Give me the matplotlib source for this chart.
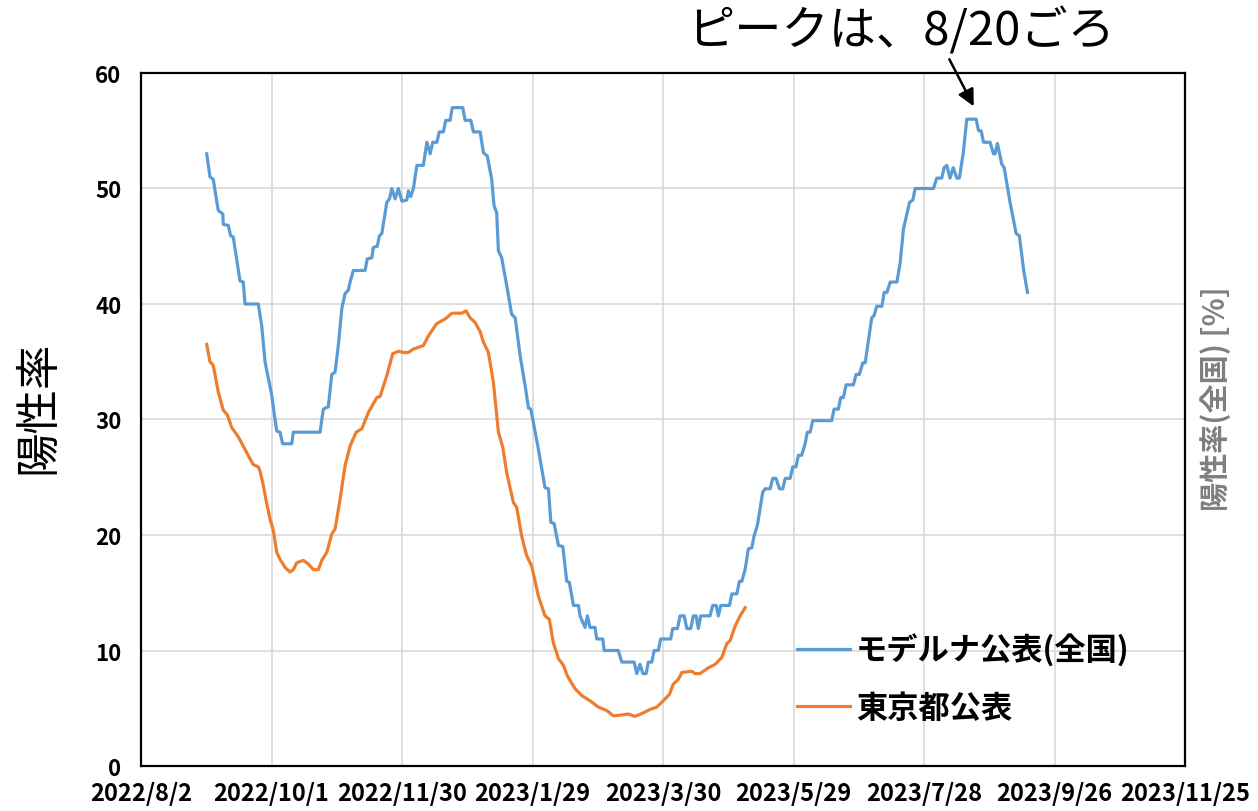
import numpy as np
import pandas as pd
import matplotlib
matplotlib.use("Agg")
import matplotlib.pyplot as plt
import matplotlib.dates as mdates

plt.rcParams['font.family'] = ['Noto Sans CJK JP', 'DejaVu Sans']

# 起点 2022/8/2 からの日数と陽性率
start = pd.Timestamp("2022-08-02")

moderna_day = [30.2, 31.7, 33.2, 35.5, 37.6, 37.8, 40.1, 41.2, 42.4, 45.5, 47.0, 47.8, 53.9, 55.5,
               57.0, 60.1, 61.6, 62.4, 63.9, 65.1, 69.3, 70.0, 82.3, 83.8, 86.1, 87.7, 89.2, 90.7,
               92.3, 93.8, 95.3, 96.1, 97.6, 103.0, 104.0, 106.1, 106.8, 108.6, 109.6, 110.7, 113.0,
               114.2, 115.3, 116.8, 118.3, 119.9, 122.2, 122.9, 124.0, 125.2, 126.8, 129.8, 131.4,
               132.9, 134.1, 136.0, 137.1, 139.0, 140.1, 142.1, 143.1, 147.9, 149.0, 151.6, 152.8,
               155.9, 157.4, 159.2, 161.2, 162.3, 163.5, 164.3, 165.8, 168.1, 170.4, 172.0, 174.3,
               176.6, 178.1, 179.2, 182.7, 185.7, 187.3, 188.4, 189.9, 191.9, 193.9, 195.7, 196.9,
               198.8, 201.1, 201.8, 204.1, 205.2, 206.4, 208.7, 209.5, 212.3, 212.9, 219.4, 221.0,
               226.7, 227.9, 229.4, 230.7, 232.2, 233.2, 234.8, 235.9, 237.8, 238.9, 243.5, 244.4,
               246.6, 247.8, 249.7, 250.9, 252.7, 253.9, 255.2, 256.2, 257.3, 261.6, 262.8, 264.4,
               265.4, 266.5, 270.5, 271.6, 273.9, 275.1, 276.2, 277.7, 279.2, 280.8, 281.8, 283.4,
               285.8, 286.9, 289.2, 290.4, 291.9, 293.5, 295.0, 296.1, 298.4, 299.6, 301.1, 302.2,
               303.7, 305.3, 306.3, 307.6, 308.8, 317.5, 318.6, 320.6, 321.7, 322.9, 324.1, 327.5,
               328.7, 330.2, 331.8, 332.9, 335.9, 337.0, 338.2, 340.6, 341.6, 342.9, 344.4, 347.5,
               349.0, 350.5, 353.3, 354.8, 355.9, 364.3, 365.8, 368.1, 369.2, 370.4, 371.9, 373.4,
               375.0, 376.2, 378.0, 379.6, 383.9, 385.0, 386.2, 387.3, 390.3, 391.9, 392.6, 393.7,
               395.7, 396.8, 399.5, 402.3, 403.8, 405.7, 407.5]
moderna_val = [53.0, 51.0, 50.8, 48.1, 47.8, 46.9, 46.8, 45.9, 45.8, 42.0, 41.9, 40.0, 40.0, 38.1,
               35.0, 32.1, 30.0, 29.0, 28.9, 27.9, 27.9, 28.9, 28.9, 30.9, 31.1, 33.9, 34.1, 36.4,
               39.6, 40.9, 41.2, 41.9, 42.9, 42.9, 43.9, 44.0, 44.9, 45.0, 45.9, 46.1, 48.8,
               49.1, 50.0, 49.1, 50.0, 48.9, 49.0, 49.8, 49.3, 50.0, 52.0, 52.0, 54.0,
               53.0, 54.0, 54.0, 54.9, 54.9, 55.9, 55.9, 57.0, 57.0, 55.9, 55.9, 54.9,
               54.9, 53.1, 52.8, 50.8, 48.5, 47.9, 44.6, 44.0, 41.6, 39.1, 38.8, 35.5,
               32.9, 31.0, 30.9, 27.4, 24.1, 24.0, 21.1, 21.0, 19.1, 19.0, 16.0, 15.9,
               13.9, 13.9, 13.0, 12.0, 13.0, 12.0, 12.0, 11.0, 11.0, 10.0, 10.0, 9.0,
               9.0, 8.0, 8.8, 8.0, 8.0, 9.0, 9.0, 10.0, 10.0, 11.0, 11.0, 11.9,
               11.9, 13.0, 13.0, 11.9, 11.9, 13.0, 13.0, 11.9, 13.0, 13.0, 13.9, 13.9,
               13.0, 13.9, 13.9, 14.9, 14.9, 16.0, 16.0, 17.0, 18.8, 18.9, 19.9, 20.9,
               23.7, 24.0, 24.0, 24.9, 24.9, 24.0, 24.0, 24.9, 24.9, 25.9, 25.9, 26.9,
               26.9, 27.9, 28.9, 28.9, 29.9, 29.9, 30.9, 30.9, 31.9, 31.9, 33.0, 33.0,
               33.9, 33.9, 34.9, 34.9, 38.8, 39.0, 39.8, 39.8, 41.0, 41.0, 41.9, 41.9,
               43.6, 46.5, 48.8, 49.0, 50.0, 50.0, 50.9, 50.9, 51.8, 52.0, 50.9, 51.8,
               50.9, 50.9, 53.1, 56.0, 56.0, 55.0, 55.0, 54.0, 54.0, 53.0, 53.0, 53.9,
               52.1, 51.8, 48.8, 46.1, 45.9, 43.0, 41.0]

tokyo_day = [30.2, 31.7, 33.2, 35.5, 37.8, 39.7, 41.7, 44.7, 47.0, 50.1, 51.6, 53.9, 54.6, 56.0,
             57.5, 59.3, 60.8, 62.4, 63.9, 66.2, 68.5, 70.0, 71.6, 74.6, 76.9, 79.2, 81.5, 83.1,
             85.4, 87.7, 89.2, 91.5, 93.8, 96.1, 98.9, 101.5, 104.5, 108.4, 109.9, 113.0, 115.7,
             118.3, 120.6, 122.9, 125.2, 129.8, 132.0, 135.9, 139.8, 142.9, 147.5, 149.4, 151.3,
             153.6, 155.9, 157.4, 159.7, 162.0, 164.3, 166.3, 168.1, 171.2, 172.7, 175.0, 177.3,
             179.6, 182.7, 185.7, 187.7, 189.5, 191.9, 194.2, 196.0, 199.5, 202.6, 206.4, 210.3,
             214.1, 217.2, 220.2, 224.0, 227.1, 230.9, 234.0, 237.1, 240.1, 242.9, 244.7, 247.0,
             248.6, 253.2, 254.7, 257.0, 260.8, 263.9, 267.0, 269.3, 270.8, 273.1, 275.4, 277.7]
tokyo_val = [36.5, 35.0, 34.7, 32.4, 30.8, 30.4, 29.3, 28.5, 27.7, 26.6, 26.1, 25.9, 25.6, 24.5,
             23.0, 21.4, 20.4, 18.5, 17.9, 17.2, 16.8, 17.0, 17.6, 17.8, 17.5, 17.0, 17.0, 17.8,
             18.5, 20.1, 20.5, 23.1, 26.0, 27.7, 28.9, 29.2, 30.6, 31.9, 32.0, 33.8, 35.7,
             35.9, 35.8, 35.8, 36.1, 36.4, 37.2, 38.3, 38.7, 39.2, 39.2, 39.4, 38.8,
             38.4, 37.6, 36.7, 35.8, 33.2, 28.9, 27.6, 25.4, 22.8, 22.4, 19.9, 18.2,
             17.3, 14.7, 13.0, 12.7, 10.7, 9.3, 8.7, 7.8, 6.7, 6.1, 5.65, 5.1,
             4.8, 4.35, 4.4, 4.5, 4.3, 4.6, 4.9, 5.1, 5.65, 6.2, 7.1, 7.5,
             8.1, 8.2, 8.0, 8.0, 8.5, 8.8, 9.4, 10.6, 10.85, 12.1, 13.0, 13.7]

tick_dates = ["2022-08-02", "2022-10-01", "2022-11-30", "2023-01-29", "2023-03-30",
              "2023-05-29", "2023-07-28", "2023-09-26", "2023-11-25"]
tick_labels = ["2022/8/2", "2022/10/1", "2022/11/30", "2023/1/29", "2023/3/30",
               "2023/5/29", "2023/7/28", "2023/9/26", "2023/11/25"]

moderna_x = start + pd.to_timedelta(moderna_day, unit="D")
tokyo_x = start + pd.to_timedelta(tokyo_day, unit="D")

fig = plt.figure(figsize=(12.58, 8.12), dpi=100)
ax = fig.add_axes([0.1121, 0.0554, 0.8300, 0.8535])

ax.plot(moderna_x, moderna_val, color="#5B9BD5", lw=2.3, label="モデルナ公表(全国)")
ax.plot(tokyo_x, tokyo_val, color="#ED7D31", lw=2.3, label="東京都公表")

ax.set_xlim(pd.Timestamp(tick_dates[0]), pd.Timestamp(tick_dates[-1]))
ax.set_ylim(0, 60)
ax.set_xticks(pd.to_datetime(tick_dates))
ax.set_xticklabels(tick_labels)
ax.set_yticks(range(0, 61, 10))
ax.grid(True, color="#d9d9d9", lw=1.2)
ax.set_axisbelow(True)
ax.tick_params(length=0, labelsize=16)
ax.tick_params(axis="x", pad=11, labelsize=17)
ax.tick_params(axis="y", pad=14)
for lab in ax.get_xticklabels() + ax.get_yticklabels():
    lab.set_fontweight("bold")
for sp in ax.spines.values():
    sp.set_color("black")
    sp.set_linewidth(1.6)

fig.text(0.0294, 0.499, "陽性率", rotation=90, fontsize=32, ha="center", va="center")
fig.text(0.966, 0.509, "陽性率(全国) [%]", rotation=90, fontsize=21, fontweight="bold",
         color="#7f7f7f", ha="center", va="center")

ax.annotate("", xy=(start + pd.Timedelta(days=383.4), 56.9),
            xytext=(start + pd.Timedelta(days=371.0), 61.4),
            arrowprops=dict(arrowstyle="-|>", color="black", lw=1.8, mutation_scale=25),
            annotation_clip=False)
ax.text(start + pd.Timedelta(days=349.4), 63.6, "ピークは、8/20ごろ", fontsize=34,
        ha="center", va="center", clip_on=False)

leg = ax.legend(loc="upper left", bbox_to_anchor=(0.628, 0.191), frameon=False,
                fontsize=22.5, handlelength=1.7, handletextpad=0.2, labelspacing=0.82,
                borderpad=0, borderaxespad=0)
for t in leg.get_texts():
    t.set_fontweight("bold")

fig.savefig("out.png", dpi=100)
